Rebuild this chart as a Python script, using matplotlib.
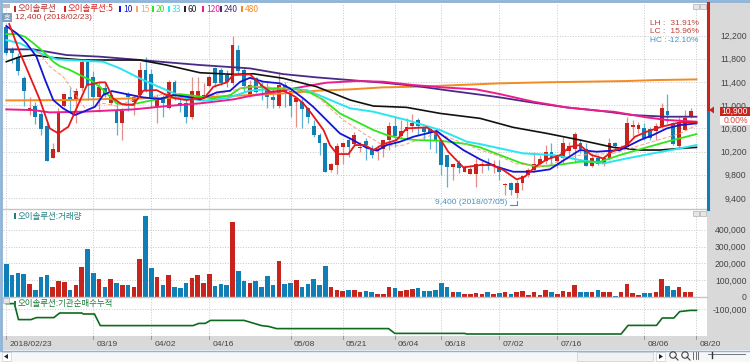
import matplotlib
matplotlib.use('Agg')
import matplotlib.pyplot as plt
from matplotlib.patches import Rectangle, Polygon

# --- Data ---
date_ticks = [0, 15, 25, 35, 49, 58, 67, 75, 85, 95, 110, 119]
date_labels = ['2018/02/23', '03/19', '04/02', '04/16', '05/08', '05/21',
               '06/04', '06/18', '07/02', '07/16', '08/06', '08/20']
price_ticks = [9400, 9800, 10200, 10600, 11000, 11400, 11800, 12200]
vol_ticks = [0, 100000, 200000, 300000, 400000]
inst_ticks = [-100000]

opens = [12352, 11961, 11835, 11461, 10903, 10989, 10845, 10638, 10092, 10190,
         10983, 11133, 11087, 11288, 11748, 11490, 11133, 11288, 11030, 10903,
         10684, 11190, 11058, 11173, 11605, 11535, 10972, 11133, 10943, 11392,
         11029, 11029, 10788, 11116, 11133, 11334, 11633, 11604, 11518, 11374,
         11950, 11604, 11156, 11461, 11346, 11271, 11145, 10990, 11346, 11248,
         11059, 11047, 10944, 10639, 10484, 10340, 9880, 9966, 10282, 10397,
         10328, 10254, 10386, 10225, 10208, 10242, 10397, 10639, 10472, 10558,
         10639, 10743, 10599, 10581, 10513, 10386, 10139, 9938, 9995, 9851,
         9811, 9811, 9949, 9983, 9949, 9926, 9620, 9650, 9477, 9650,
         9794, 9880, 9983, 10041, 10196, 10041, 10081, 10213, 10236, 10340,
         10236, 9949, 10081, 9983, 10064, 10340, 10254, 10282, 10628, 10581,
         10599, 10581, 10553, 10639, 10904, 10685, 10294, 10570, 10800]
highs = [12400, 12007, 11900, 11500, 11133, 11058, 10903, 10713, 10340, 10943,
         11200, 11288, 11288, 11788, 11788, 11593, 11403, 11375, 11231, 11087,
         10943, 11231, 11173, 11748, 11835, 11620, 11200, 11173, 11432, 11432,
         11100, 11173, 11490, 11490, 11375, 11518, 11662, 11633, 11604, 12191,
         12036, 11662, 11432, 11490, 11404, 11375, 11289, 11576, 11404, 11289,
         11145, 11116, 10973, 10743, 10513, 10340, 9995, 10340, 10340, 10455,
         10541, 10369, 10426, 10311, 10311, 10397, 10714, 10788, 10743, 10771,
         10840, 10771, 10628, 10610, 10582, 10386, 10139, 9990, 10050, 9960,
         9926, 10081, 10041, 10081, 10052, 10052, 9660, 9667, 9707, 9794,
         9909, 10196, 10139, 10311, 10340, 10139, 10455, 10369, 10541, 10398,
         10340, 10168, 10139, 10110, 10426, 10369, 10311, 10789, 10743, 10714,
         10685, 10628, 10685, 11041, 11191, 10714, 10800, 10915, 10944]
lows = [11863, 11720, 11520, 10983, 10828, 10673, 10483, 10040, 10092, 10190,
        10960, 10857, 10684, 11250, 11087, 10983, 10886, 11133, 11001, 10483,
        10397, 10903, 10828, 11173, 11231, 10950, 10684, 10800, 10926, 11087,
        10886, 10684, 10753, 11087, 11116, 11317, 11317, 11346, 11317, 11340,
        11547, 11230, 11145, 11214, 11087, 10944, 10944, 10944, 10973, 10800,
        10628, 10599, 10685, 10455, 10139, 9840, 9851, 9811, 9984, 10099,
        10311, 10196, 10053, 10081, 10053, 10099, 10225, 10282, 10426, 10400,
        10541, 10484, 10397, 10237, 10168, 9794, 9592, 9708, 9823, 9851,
        9811, 9592, 9823, 9880, 9822, 9708, 9449, 9449, 9400, 9535,
        9765, 9851, 9966, 9984, 9966, 9909, 9995, 10139, 9995, 10168,
        9949, 9938, 9966, 9949, 10052, 10237, 10237, 10282, 10455, 10512,
        10398, 10398, 10398, 10599, 10685, 10310, 10271, 10570, 10771]
closes = [11892, 11892, 11587, 11242, 10943, 10788, 10592, 10040, 10236, 10886,
          11190, 11087, 11248, 11742, 11346, 11133, 11317, 11190, 11173, 10684,
          10903, 11133, 11145, 11605, 11259, 11133, 11133, 11041, 11392, 11173,
          10983, 10788, 11248, 11248, 11173, 11490, 11374, 11374, 11403, 12036,
          11593, 11328, 11346, 11231, 11306, 11145, 11087, 11346, 11231, 10990,
          11116, 10932, 10789, 10484, 10340, 9840, 9978, 10294, 10340, 10282,
          10484, 10282, 10311, 10139, 10237, 10397, 10639, 10472, 10553, 10616,
          10696, 10645, 10541, 10513, 10386, 9966, 9938, 9983, 9920, 9926,
          9891, 9978, 9983, 9949, 9983, 9851, 9638, 9535, 9662, 9776,
          9880, 9983, 10064, 10196, 10081, 10110, 10340, 10294, 10495, 10236,
          9949, 10081, 9983, 10081, 10340, 10294, 10271, 10696, 10657, 10656,
          10438, 10426, 10639, 10944, 10829, 10328, 10714, 10771, 10904]

volumes = [198, 129, 145, 139, 77, 44, 117, 133, 58, 97, 89, 44, 69, 177, 286, 141, 105, 62, 105, 85,
           73, 73, 58, 224, 480, 173, 121, 69, 129, 58, 52, 85, 111, 129, 81, 137, 65, 77, 73, 446,
           153, 93, 81, 97, 58, 123, 73, 214, 77, 81, 101, 62, 77, 105, 69, 186, 58, 40, 36, 40,
           40, 28, 38, 32, 20, 20, 62, 52, 36, 44, 48, 52, 36, 36, 44, 81, 58, 32, 28, 20,
           16, 26, 20, 30, 20, 24, 28, 16, 28, 36, 10, 32, 12, 44, 32, 16, 36, 28, 73, 32,
           32, 28, 44, 32, 32, 8, 28, 77, 24, 12, 24, 24, 28, 105, 63, 40, 58, 28, 28]

# moving averages, read as (bar position, price) at the bends
ma5_x = [0.5, 2.4, 4.1, 5.8, 7.5, 9, 10.7, 12.1, 13.9, 16.1, 17.1, 18.4, 19.9, 21.9, 23.6, 25.9, 27.6, 29.1, 31.1,
         32.8, 34.1, 35.7, 38, 39.1, 42, 44.3, 45.5, 47.8, 49.8, 51.2, 52.6, 54.7, 55.8, 57, 59, 60.1, 61.8, 63.3,
         65, 67.3, 69, 72.5, 74.2, 76.2, 78.8, 81.7, 83.7, 85.7, 88, 89.4, 91.2, 93.2, 95.5, 97.2, 98.9, 100.9,
         102.9, 104.4, 107, 108.4, 110.4, 113, 116.2, 119]
ma5_y = [12398, 11892, 11490, 11087, 10598, 10512, 10627, 10943, 11346, 11392, 11392, 11116, 11018, 11001, 11248,
         11259, 11173, 11116, 11087, 11116, 11116, 11317, 11392, 11518, 11530, 11317, 11231, 11248, 11145, 11030,
         10857, 10570, 10311, 10156, 10156, 10311, 10311, 10225, 10328, 10397, 10599, 10616, 10513, 10196, 9926,
         9966, 9966, 9880, 9719, 9765, 9938, 10064, 10139, 10282, 10311, 10139, 10081, 10196, 10311, 10455, 10541,
         10628, 10702, 10702]
ma10_x = [0, 1.8, 3.5, 5.2, 6.7, 8.1, 9.8, 11.8, 13.3, 15.3, 16.7, 18.2, 20.7, 23.6, 26.5, 28.8, 31.1, 33.4, 36.3,
          38.6, 40.3, 42, 44.3, 47.2, 48.9, 51.2, 52.9, 55.2, 57.5, 59.8, 62.1, 63.9, 65.6, 67.9, 70.2, 74.2, 75.9,
          78.8, 81.7, 84.5, 87.4, 90.9, 93.7, 96, 98.9, 101.8, 105.8, 109.3, 111.5, 113.9, 116.2, 119]
ma10_y = [12363, 12237, 12064, 11835, 11432, 11087, 10943, 10828, 10886, 10972, 11173, 11242, 11190, 11133, 11104,
          11173, 11145, 11098, 11219, 11248, 11400, 11470, 11404, 11375, 11289, 11116, 10972, 10743, 10513, 10397,
          10265, 10214, 10311, 10369, 10455, 10553, 10426, 10225, 10064, 9938, 9851, 9851, 9892, 10041, 10225,
          10196, 10225, 10398, 10484, 10599, 10656, 10685]
ma15_x = [5.5, 7.5, 9.8, 11.8, 13.8, 16.7, 19, 21.9, 24.2, 27.6, 31.1, 33.4, 37, 42, 47, 52.9, 55.2, 58.1, 61.6,
          64.4, 66.7, 68.5, 74.2, 78.2, 81.7, 84.5, 87.9, 92.5, 98.9, 104.7, 110.4, 116.2, 119]
ma15_y = [11921, 11662, 11490, 11202, 10915, 11030, 10983, 11087, 11116, 11202, 11145, 11116, 11200, 11330, 11300,
          11231, 11001, 10743, 10513, 10340, 10294, 10311, 10513, 10369, 10225, 10139, 9990, 9938, 10139, 10168,
          10340, 10512, 10656]
ma20_x = [0, 1.8, 3.2, 4.7, 6.4, 8.1, 9.2, 11, 12.7, 14.7, 16.1, 17.9, 19, 20.7, 22.5, 24.8, 27.6, 29.9, 32.8, 35.7,
          38.6, 40.3, 42.6, 46, 50, 52.4, 54.7, 57.5, 60.4, 63.3, 65.6, 67.9, 70.7, 74.8, 79.4, 81.7, 85.1, 88.6,
          91.4, 94.9, 98.9, 102.4, 105.8, 109.8, 113.9, 119]
ma20_y = [12225, 12225, 12180, 12064, 11921, 11748, 11673, 11604, 11518, 11420, 11317, 11145, 11030, 11001, 11030,
          11076, 11133, 11190, 11156, 11116, 11173, 11288, 11317, 11289, 11271, 11214, 11087, 10857, 10714, 10570,
          10484, 10426, 10397, 10386, 10328, 10271, 10139, 10006, 9938, 9966, 10024, 10024, 10139, 10254, 10369, 10501]
ma33_x = [0, 2.4, 5.2, 8.7, 13.3, 16.7, 19.6, 23.6, 27.6, 31.1, 34, 38, 42, 47.8, 51.8, 55.2, 59.3, 63.3, 69, 74.8,
          79.4, 81.7, 85.1, 89.1, 94.3, 98.9, 102.9, 107, 111.5, 116.2, 119]
ma33_y = [12122, 12064, 11921, 11788, 11765, 11748, 11633, 11432, 11259, 11116, 11076, 11116, 11250, 11289, 11260,
          11116, 10944, 10886, 10743, 10570, 10369, 10328, 10254, 10168, 10139, 10052, 9995, 10081, 10168, 10254, 10311]
ma60_x = [0, 2.4, 4.7, 7.5, 13.3, 23, 27.6, 33.4, 39.1, 42.6, 47.8, 53.5, 59.3, 63.3, 69, 74.8, 81.7, 87.4, 93.2,
          98.9, 104.7, 109.3, 112.7, 116.2, 119]
ma60_y = [11748, 11835, 11863, 11823, 11777, 11777, 11691, 11558, 11530, 11540, 11461, 11317, 11087, 10984, 10961,
          10857, 10771, 10616, 10512, 10398, 10271, 10225, 10225, 10254, 10271]
ma120_x = [0, 4.7, 7.5, 13.3, 21.9, 27.6, 33.4, 39.1, 42, 46.5, 51.8, 55.2, 60.4, 65, 70.2, 75.3, 81, 85.1, 90.9,
           96.6, 102.3, 104.7, 110.4, 113.9, 119]
ma120_y = [10926, 10914, 10874, 10886, 10926, 10983, 11030, 11098, 11156, 11230, 11328, 11386, 11415, 11403, 11346,
           11305, 11271, 11190, 11058, 10960, 10900, 10886, 10788, 10743, 10714]
ma240_x = [0, 4.7, 10.4, 16.1, 21.9, 26.5, 33.4, 42, 47.7, 53.5, 59.2, 65, 70.7, 76.5, 82.2, 85.1, 90.9, 96.6,
           102.3, 108, 113.8, 119]
ma240_y = [11961, 11961, 11863, 11835, 11788, 11748, 11691, 11633, 11535, 11478, 11432, 11386, 11328, 11248, 11173,
           11133, 11041, 10960, 10903, 10828, 10800, 10800]
ma480_x = [0, 10.4, 21.9, 33.4, 42, 47.7, 53.5, 59.2, 65, 70.7, 76.5, 85.1, 92.5, 99.4, 107, 112, 119]
ma480_y = [11081, 11087, 11116, 11133, 11173, 11202, 11248, 11271, 11306, 11317, 11340, 11375, 11392, 11403, 11415,
           11432, 11443]

inst_x = [0, 1.4, 2.1, 4.25, 5.2, 8.2, 9.2, 13, 13.3, 15.2, 16.2, 32.2, 33.2, 34.3, 35.2, 41, 44, 45.2, 46.6, 65.9,
          67, 79, 79.4, 106, 107.2, 112.1, 113.1, 115.1, 116.1, 117.9, 119]
inst_y = [-73000, -73000, -153000, -153000, -143000, -143000, -120000, -120000, -125000, -125000, -183000, -183000,
          -172000, -172000, -157000, -157000, -183000, -187000, -198000, -198000, -222000, -222000, -225000, -225000,
          -182000, -182000, -145000, -145000, -113000, -107000, -107000]

# --- Colours ---
RED = '#c8241e'
BLUE = '#0f7fb5'
RED_W = '#e58f8a'
BLUE_W = '#5fb0d8'
GRAY = '#d9d9d9'
TXT = '#444444'
KR = ['Noto Sans CJK KR', 'DejaVu Sans']
NUM = 'Liberation Sans'

fig = plt.figure(figsize=(7.5, 3.62), dpi=100, facecolor='white')


def px_axes(left, top, right, bottom, z):
    ax = fig.add_axes([left / 750, 1 - bottom / 362, (right - left) / 750, (bottom - top) / 362], zorder=z)
    return ax


# --- Window chrome, in pixels ---
bg = px_axes(0, 0, 750, 362, 0)
bg.set_xlim(0, 750)
bg.set_ylim(362, 0)
bg.axis('off')
bg.add_patch(Rectangle((0, 0), 750, 350, color=GRAY, lw=0))
bg.add_patch(Rectangle((0, 350), 750, 12, color='#f7f7f7', lw=0))
bg.plot([0, 750], [350.5, 350.5], color='#8db4dc', lw=1)
bg.plot([0, 750], [1, 1], color='#8db4dc', lw=2)
bg.plot([1, 1], [0, 350], color='#8db4dc', lw=2)
bg.add_patch(Rectangle((577, 351.5), 76, 9.5, fc='#f2f2f2', ec='#cccccc', lw=0.5))
bg.add_patch(Rectangle((2, 352), 9, 9, fc='white', ec='#cccccc', lw=0.5))
bg.add_patch(Rectangle((656, 352), 9, 9, fc='white', ec='#cccccc', lw=0.5))

xlim = ((3 - 6.3) / 5.8, (707 - 6.3) / 5.8)


def style_panel(ax, ticks, labels, ylim):
    ax.set_xlim(*xlim)
    ax.set_ylim(*ylim)
    for s in ax.spines.values():
        s.set_visible(False)
    ax.set_xticks(date_ticks)
    ax.set_yticks(ticks)
    ax.yaxis.tick_right()
    ax.set_yticklabels(labels, fontname=NUM, fontsize=6.2, color=TXT, ha='right')
    ax.tick_params(axis='y', length=0, pad=28.5)
    ax.tick_params(axis='x', length=0, labelbottom=False)
    ax.grid(color='#c8c8c8', linestyle=':', linewidth=0.7)
    ax.set_axisbelow(True)


# --- Price panel ---
ax1 = px_axes(3, 3, 707, 209, 1)
price_bottom = 12200 - (209 - 35.5) * 400 / 23.2
price_top = 12200 + (35.5 - 3) * 400 / 23.2
style_panel(ax1, price_ticks, [f'{v:,}' for v in price_ticks], (price_bottom, price_top))

for i in range(len(closes)):
    up = closes[i] >= opens[i]
    ax1.vlines(i, lows[i], highs[i], color=RED_W if up else BLUE_W, lw=0.9, zorder=2)
    ax1.bar(i, max(abs(closes[i] - opens[i]), 18), bottom=min(opens[i], closes[i]), width=0.68,
            color=RED if up else BLUE, lw=0, zorder=3)

ax1.plot(ma480_x, ma480_y, color='#f58a1f', lw=1.4, zorder=4)
ax1.plot(ma240_x, ma240_y, color='#4b2a86', lw=1.3, zorder=4)
ax1.plot(ma120_x, ma120_y, color='#ee1c8c', lw=1.4, zorder=4)
ax1.plot(ma60_x, ma60_y, color='#111111', lw=1.2, zorder=4)
ax1.plot(ma33_x, ma33_y, color='#27e6f0', lw=1.4, zorder=4)
ax1.plot(ma20_x, ma20_y, color='#2ee61a', lw=1.3, zorder=4)
ax1.plot(ma15_x, ma15_y, color='#f5a27e', lw=0.7, ls=(0, (4, 2)), zorder=4)
ax1.plot(ma10_x, ma10_y, color='#1414d8', lw=1.3, zorder=5)
ax1.plot(ma5_x, ma5_y, color='#e8161a', lw=1.3, zorder=5)

# --- Volume panel ---
ax2 = px_axes(3, 209, 707, 297, 1)
vol_top = (297 - 209) / 16.8 * 100000
style_panel(ax2, vol_ticks, [f'{v:,}' for v in vol_ticks], (0, vol_top))
vol_colors = [RED if c >= o else BLUE for o, c in zip(opens, closes)]
vol_colors[83] = BLUE
ax2.bar(range(len(volumes)), [v * 1000 for v in volumes], width=0.8, color=vol_colors, lw=0, zorder=3)

# --- Institution net-buy panel ---
ax3 = px_axes(3, 297, 707, 336, 1)
style_panel(ax3, inst_ticks, ['-100,000'], (-100000 - 27 * 5000, -100000 + 12 * 5000))
ax3.plot(inst_x, inst_y, color='#0b6b1e', lw=1.2, zorder=3)

# --- Overlay: legend text, notes, buttons ---
fg = px_axes(0, 0, 750, 362, 5)
fg.set_xlim(0, 750)
fg.set_ylim(362, 0)
fg.axis('off')
fg.patch.set_alpha(0)

for y in [209, 297]:
    fg.plot([3, 707], [y, y], color='#c4c4c4', lw=1)
fg.plot([707.5, 707.5], [3, 112], color=RED, lw=2.2)
fg.plot([707.5, 707.5], [112, 209], color=BLUE, lw=2.2)

legend = [('오이솔루션', 18, '#b5302a'), ('오이솔루션:5', 68, '#d8201c'), ('10', 123, '#1414d8'),
          ('15', 140, '#f5a27e'), ('20', 156, '#2ee61a'), ('33', 172, '#27e6f0'), ('60', 188, '#222222'),
          ('120', 206, '#ee1c8c'), ('240', 224, '#4b2a86'), ('480', 245, '#f58a1f')]
for name, x, col in legend:
    fg.add_patch(Rectangle((x - 4, 6), 1.6, 6, color=col, lw=0))
    fg.text(x, 9, name, fontfamily=KR, fontsize=6.1, color=col, ha='left', va='center')

fg.add_patch(Rectangle((2, 13), 10, 9, color='#7f9fc0', lw=0))
fg.text(7, 17.5, '호', fontfamily=KR, fontsize=5, color='white', ha='center', va='center')
fg.text(15, 17.5, '12,400 (2018/02/23)', fontname=NUM, fontsize=6.1, color='#b5302a', ha='left', va='center')
fg.text(435, 203, '9,400 (2018/07/05)', fontname=NUM, fontsize=6.1, color='#3d94c4', ha='left', va='center')
fg.plot([510, 517, 517], [204.5, 204.5, 201], color='#3d94c4', lw=0.8)

notes = [('LH :', ' 31.91%', 23.5, '#c0403a'), ('LC :', ' 15.96%', 31.5, '#c0403a'), ('HC :', '-12.10%', 40, '#3d94c4')]
for a, b, y, col in notes:
    fg.text(650, y, a, fontname=NUM, fontsize=6, color=col, ha='left', va='center')
    fg.text(699, y, b, fontname=NUM, fontsize=6, color=col, ha='right', va='center')

fg.text(18, 216, '오이솔루션:거래량', fontfamily=KR, fontsize=6.1, color='#1f7f80', ha='left', va='center')
fg.add_patch(Rectangle((14, 213), 1.6, 6, color='#1f7f80', lw=0))
fg.text(18, 303.5, '오이솔루션:기관순매수누적', fontfamily=KR, fontsize=6.1, color='#1f7a3a', ha='left', va='center')
fg.add_patch(Rectangle((14, 301), 1.6, 6, color='#1f7a3a', lw=0))

# current price box, leaves the 11,000 label showing above it
fg.add_patch(Rectangle((720, 107), 30, 9, color=RED, lw=0))
fg.add_patch(Rectangle((720, 116), 30, 9, color='white', lw=0))
fg.text(748, 111.7, '10,900', fontname=NUM, fontsize=6.2, color='white', ha='right', va='center')
fg.text(748, 120.5, '0.00%', fontname=NUM, fontsize=6.2, color='#e04a44', ha='right', va='center')
fg.add_patch(Polygon([(709, 110), (714, 106.5), (714, 113.5)], color=RED, lw=0))

# date strip
for i, lab in zip(date_ticks, date_labels):
    x = 6.3 + 5.8 * i
    fg.plot([x, x], [336, 339], color='#999999', lw=0.7)
    fg.text(x + 3, 344, lab, fontname=NUM, fontsize=6.1, color=TXT, ha='left', va='center')

# little buttons
for bx, by in [(693, 4), (700, 4), (693, 211), (700, 211), (3, 298)]:
    fg.add_patch(Rectangle((bx, by), 5.5, 5, fc='#e6e6e6', ec='#b0b0b0', lw=0.5))
fg.add_patch(Rectangle((3, 4), 7, 4, color='#bbbbbb', lw=0))
fg.add_patch(Polygon([(4, 356.5), (8, 354), (8, 359)], color='#222222', lw=0))
fg.add_patch(Polygon([(659, 354), (659, 359), (663, 356.5)], color='#222222', lw=0))
for cx in [673, 685]:
    fg.add_patch(plt.Circle((cx, 355), 3.2, fc='none', ec='#444444', lw=0.8))
    fg.plot([cx + 2, cx + 5], [357, 360], color='#444444', lw=0.8)
for gx in [693, 695.5, 698]:
    fg.plot([gx, gx], [352, 359], color='#555555', lw=0.6)
fg.plot([708, 745], [354, 354], color='#777777', lw=0.7)
fg.plot([712, 712], [352, 358], color='#333333', lw=1)

fig.savefig('out.png', dpi=100)
